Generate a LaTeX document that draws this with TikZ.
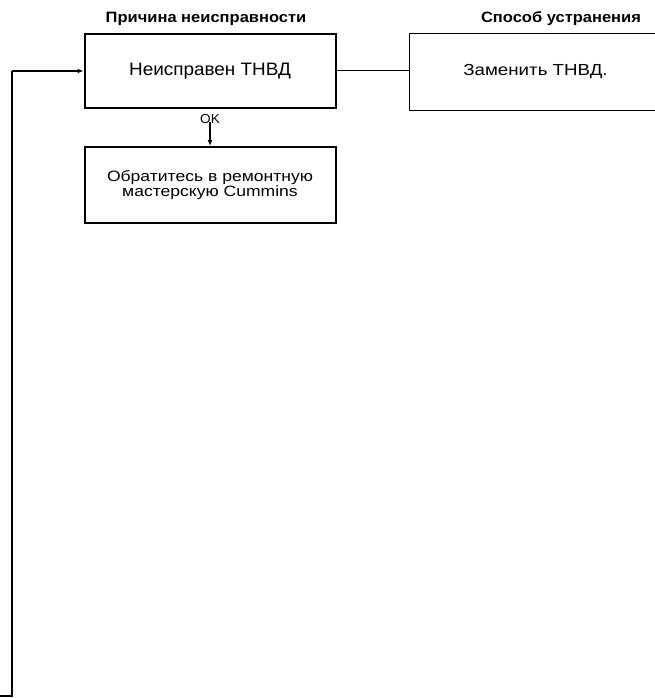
\documentclass[tikz,border=0pt]{standalone}
\usepackage{fontspec}
\setmainfont{Liberation Sans}
\newfontfamily\hdrfont[FakeStretch=1.1]{Liberation Sans}
\newfontfamily\boxfont[FakeStretch=1.05]{Liberation Sans}
\newfontfamily\widefont[FakeStretch=1.17]{Liberation Sans}
\usetikzlibrary{arrows.meta}
\begin{document}
\begin{tikzpicture}[x=1pt,y=-1pt,
  thickbox/.style={draw=black,line width=2pt,minimum width=251pt,minimum height=74pt,align=center,inner sep=0pt},
  thinbox/.style={draw=black,line width=1pt,align=center,inner sep=0pt},
  header/.style={font=\hdrfont\bfseries\fontsize{15}{16}\selectfont,inner sep=0pt},
  conn/.style={line width=1pt},
  loopline/.style={line width=2.5pt},
  arr/.style={-{Latex[length=6pt,width=5pt]}}]
\useasboundingbox (0,0) rectangle (655,698);
\fill[white] (0,0) rectangle (655,698);
\node[header] (h1) at (206,19) {Причина неисправности};
\node[header] (h2) at (561,19) {Способ устранения};
\node[thickbox,font=\boxfont\fontsize{18}{19}\selectfont] (b1) at (210,71) {Неисправен ТНВД};
\node[thickbox,minimum height=76pt,font=\widefont\fontsize{15}{15}\selectfont] (b2) at (210,185) {Обратитесь в ремонтную\\мастерскую Cummins};
\node[thinbox,minimum width=260pt,minimum height=77pt,anchor=west,font=\widefont\fontsize{16}{17}\selectfont] (b3) at (409,72) {Заменить ТНВД.\hspace*{8pt}};
\node[font=\boxfont\fontsize{13}{14}\selectfont,inner sep=0pt] (ok) at (210,119) {OK};
\coordinate (s) at (0,696);
\coordinate (c1) at (12,696);
\coordinate (c2) at (12,71);
\draw[conn] (b1.east) -- (b3.west |- b1.east);
\draw[line width=2pt,arr] ([yshift=2pt]ok.south) -- (ok.south |- b2.north);
\draw[loopline] (s) -- (c1) -- (c2);
\draw[line width=1.5pt,arr] (c2) -- (b1.west);
\end{tikzpicture}
\end{document}
